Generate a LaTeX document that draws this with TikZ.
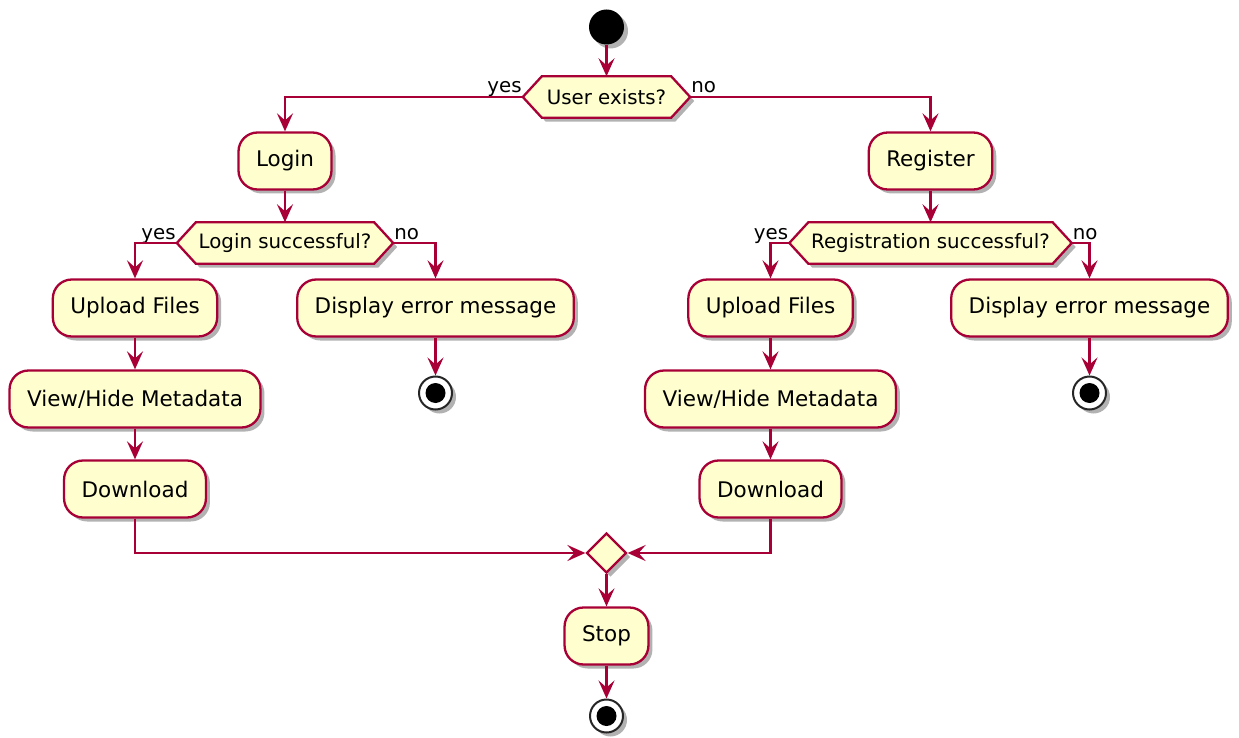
\documentclass[tikz,border=0pt]{standalone}
\usepackage{fontspec}
\setmainfont{DejaVu Sans}
\usetikzlibrary{arrows.meta,shadows,calc,shapes.geometric,backgrounds}
\definecolor{pfill}{HTML}{FEFECE}
\definecolor{pline}{HTML}{A80036}
\tikzset{
  shad/.style={drop shadow={shadow xshift=4pt, shadow yshift=-4pt, opacity=0.3, fill=black}},
  act/.style={draw=pline, fill=pfill, line width=2.3pt, rounded corners=19pt,
    minimum height=57pt, inner xsep=17.5pt, font=\fontsize{21.5}{25}\selectfont, shad},
  hexa/.style={inner sep=0pt, minimum height=41pt, font=\fontsize{19.8}{23}\selectfont},
  hexline/.style={draw=pline, fill=pfill, line width=2.3pt, shad},
  flow/.style={draw=pline, line width=2.3pt, -{Stealth[length=18pt,width=16pt,inset=7pt]}},
  lbl/.style={font=\fontsize{19.8}{23}\selectfont, inner sep=0pt},
  startdot/.style={circle, fill=black, minimum size=35pt, inner sep=0pt, shad},
  enddot/.style={circle, draw=black!85, fill=white, line width=2pt, minimum size=33pt, inner sep=0pt, shad,
    path picture={\fill[black] (path picture bounding box.center) circle (10pt);}},
  merge/.style={diamond, draw=pline, fill=pfill, line width=2.3pt, minimum size=40pt, inner sep=0pt, aspect=1, shad},
}
\begin{document}
\begin{tikzpicture}[x=1pt,y=-1pt]
\useasboundingbox (0,0) rectangle (1239,738);

% start
\node[startdot] (start) at (606.5,27) {};

% hexagon decisions (text nodes)
\node[hexa, minimum width=129pt] (ue) at (606.5,97) {User exists?};
\coordinate (ueL) at ($(ue.west)+(-19,0)$);
\coordinate (ueR) at ($(ue.east)+(19,0)$);
\node[hexa, minimum width=178pt] (ls) at (285,243) {Login successful?};
\coordinate (lsL) at ($(ls.west)+(-19,0)$);
\coordinate (lsR) at ($(ls.east)+(19,0)$);
\node[hexa, minimum width=244pt] (rs) at (930.5,243) {Registration successful?};
\coordinate (rsL) at ($(rs.west)+(-19,0)$);
\coordinate (rsR) at ($(rs.east)+(19,0)$);

\begin{scope}[on background layer]
  \draw[hexline] (ue.north west) -- (ue.north east) -- (ueR) -- (ue.south east) -- (ue.south west) -- (ueL) -- cycle;
  \draw[hexline] (ls.north west) -- (ls.north east) -- (lsR) -- (ls.south east) -- (ls.south west) -- (lsL) -- cycle;
  \draw[hexline] (rs.north west) -- (rs.north east) -- (rsR) -- (rs.south east) -- (rs.south west) -- (rsL) -- cycle;
\end{scope}

% activities
\node[act] (login) at (285,161) {Login};
\node[act] (reg) at (930.5,161) {Register};
\node[act] (upL) at (135,308) {Upload Files};
\node[act] (demL) at (435.5,308) {Display error message};
\node[enddot] (endL) at (435.5,393) {};
\node[act] (vhL) at (135,399) {View/Hide Metadata};
\node[act] (dlL) at (135,489) {Download};
\node[act] (upR) at (770.5,308) {Upload Files};
\node[act] (demR) at (1089.5,308) {Display error message};
\node[enddot] (endR) at (1089.5,393) {};
\node[act] (vhR) at (770.5,399) {View/Hide Metadata};
\node[act] (dlR) at (770.5,489) {Download};
\node[merge] (mg) at (606.5,553) {};
\node[act] (stop) at (606.5,636) {Stop};
\node[enddot] (endS) at (606.5,716) {};

% labels
\node[lbl, anchor=base east] (y1) at ($(ueL)+(-1,-4)$) {yes};
\node[lbl, anchor=base west] (n1) at ($(ueR)+(1,-4)$) {no};
\node[lbl, anchor=base east] (y2) at ($(lsL)+(-1,-4)$) {yes};
\node[lbl, anchor=base west] (n2) at ($(lsR)+(1,-4)$) {no};
\node[lbl, anchor=base east] (y3) at ($(rsL)+(-1,-4)$) {yes};
\node[lbl, anchor=base west] (n3) at ($(rsR)+(1,-4)$) {no};

% connectors
\draw[flow] (start) -- (ue.north);
\draw[flow] (ueL) -| (login.north);
\draw[flow] (ueR) -| (reg.north);
\draw[flow] (login.south) -- (ls.north);
\draw[flow] (reg.south) -- (rs.north);
\draw[flow] (lsL) -| (upL.north);
\draw[flow] (lsR) -| (demL.north);
\draw[flow] (rsL) -| (upR.north);
\draw[flow] (rsR) -| (demR.north);
\draw[flow] (demL.south) -- (endL.north);
\draw[flow] (demR.south) -- (endR.north);
\draw[flow] (upL.south) -- (vhL.north);
\draw[flow] (vhL.south) -- (dlL.north);
\draw[flow] (upR.south) -- (vhR.north);
\draw[flow] (vhR.south) -- (dlR.north);
\draw[flow] (dlL.south) |- (mg.west);
\draw[flow] (dlR.south) |- (mg.east);
\draw[flow] (mg.south) -- (stop.north);
\draw[flow] (stop.south) -- (endS.north);
\end{tikzpicture}
\end{document}
